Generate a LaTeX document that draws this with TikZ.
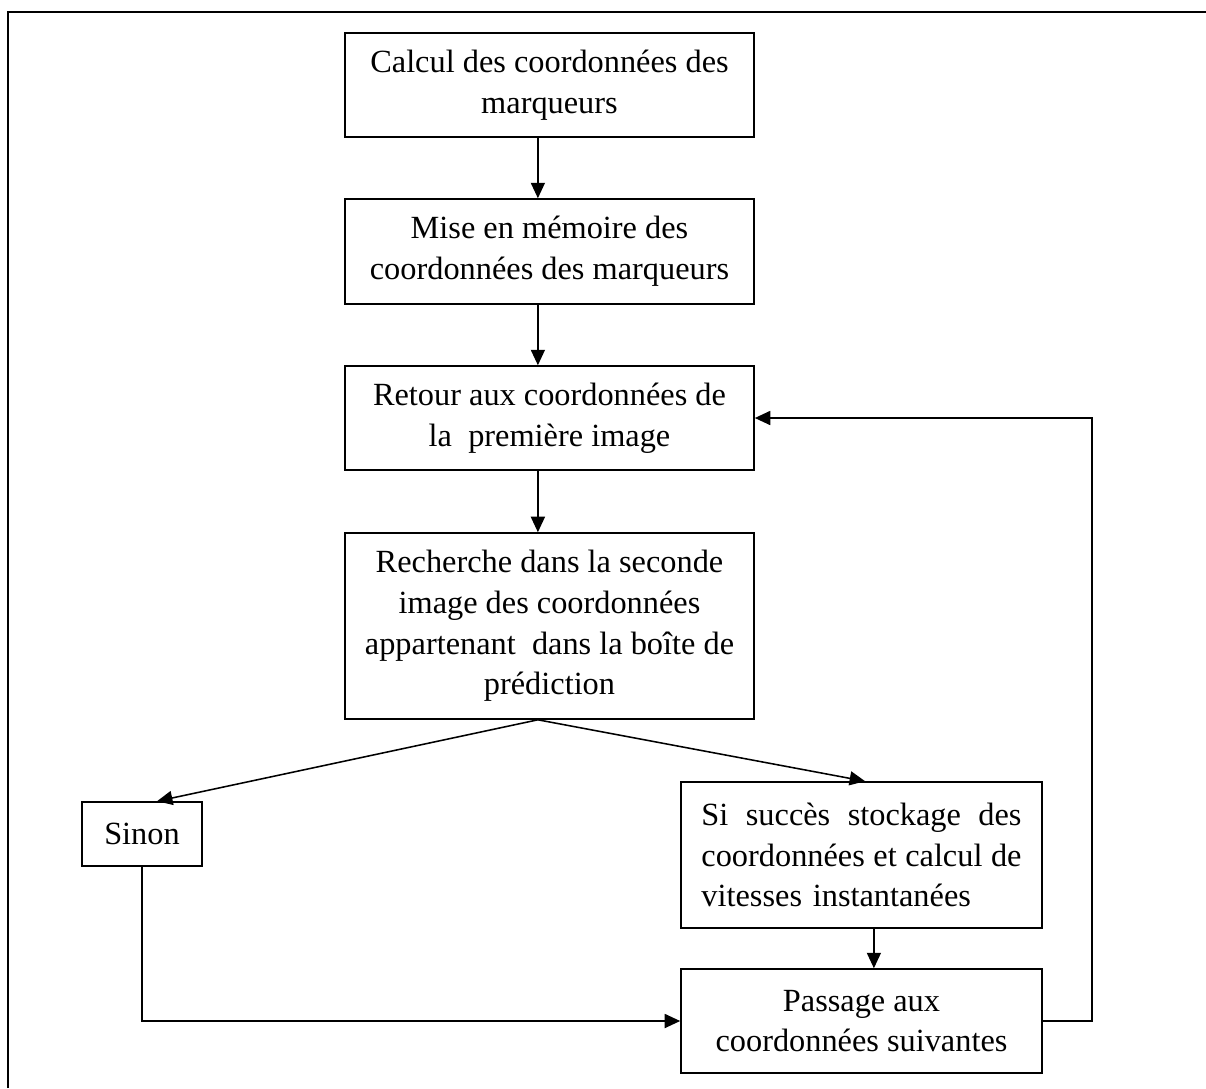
\documentclass[tikz,border=0pt]{standalone}
\usepackage{fontspec}
\setmainfont{Liberation Serif}
\usepackage{tikz}
\usetikzlibrary{arrows, arrows.meta, positioning, calc}

\begin{document}
\begin{tikzpicture}[-,>={Triangle[length=11pt,width=10pt]},x=0.025cm,y=-0.025cm,
      line width=1.1pt,main node/.style={rectangle,draw,align=center,minimum width=10.225cm,font=\fontsize{23}{29}\selectfont}]
  \useasboundingbox (0,0) rectangle (1206,1088);
  \draw (8,1088) -- (8,12) -- (1206,12);
  \node[main node, minimum height=2.6cm] (1) at (549.5,85) {Calcul des coordonnées des\\marqueurs};
  \node[main node, minimum height=2.625cm] (2) at (549.5,251.5) {Mise en mémoire des\\coordonnées des marqueurs};
  \node[main node, minimum height=2.6cm] (3) at (549.5,418) {Retour aux coordonnées de\\la\ \ première image};
  \node[main node, minimum height=4.65cm] (4) at (549.5,626) {Recherche dans la seconde\\image des coordonnées\\appartenant\ \ dans la boîte de\\prédiction};
  \node[main node, minimum width=3cm, minimum height=1.6cm] (5) at (142,834) {Sinon};
  \node[main node, minimum width=9.025cm, minimum height=3.65cm, text width=8cm, align=left] (6) at (861.5,855)
    {Si\hfill succès\hfill stockage\hfill des\\coordonnées\hfill et\hfill calcul\hfill de\\vitesses instantanées};
  \node[main node, minimum width=9.025cm, minimum height=2.6cm] (7) at (861.5,1021) {Passage aux\\coordonnées suivantes};
\path[->]
    ([xshift=-0.29cm]1.south) edge ([xshift=-0.29cm]2.north)
    ([xshift=-0.29cm]2.south) edge ([xshift=-0.29cm]3.north)
    ([xshift=-0.29cm]3.south) edge ([xshift=-0.29cm]4.north)
    ([xshift=-0.29cm]4.south) edge ([xshift=0.375cm]5.north)
    ([xshift=-0.29cm]4.south) edge ([xshift=0.09cm]6.north)
    ([xshift=0.31cm]6.south) edge ([xshift=0.31cm]7.north);
  \draw[->] (5.south) |- (7.west);
  \draw[->] (7.east) -- ++(49,0) |- (3.east);
\end{tikzpicture}
\end{document}
